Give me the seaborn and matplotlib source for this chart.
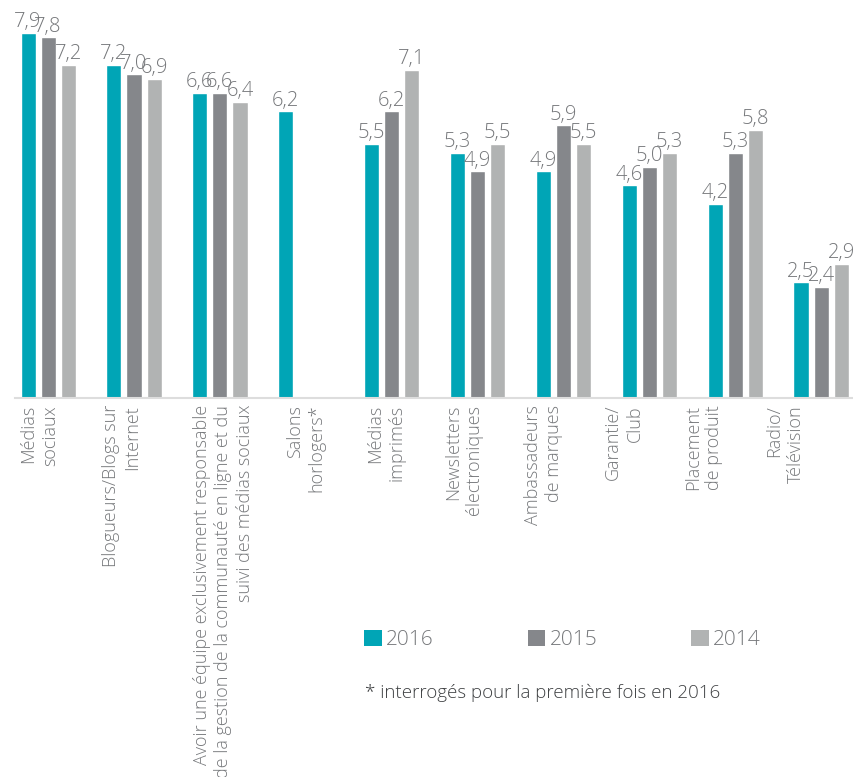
import matplotlib
matplotlib.use("Agg")
import matplotlib.pyplot as plt
import seaborn as sns
import pandas as pd
from matplotlib.patches import Patch

# ---------------- data ----------------
categories = [
    "Médias\nsociaux",
    "Blogueurs/Blogs sur\nInternet",
    "Avoir une équipe exclusivement responsable\nde la gestion de la communauté en ligne et du\nsuivi des médias sociaux",
    "Salons\nhorlogers*",
    "Médias\nimprimés",
    "Newsletters\nélectroniques",
    "Ambassadeurs\nde marques",
    "Garantie/\nClub",
    "Placement\nde produit",
    "Radio/\nTélévision",
]
years = ["2016", "2015", "2014"]
v2016 = [7.9, 7.2, 6.6, 6.2, 5.5, 5.3, 4.9, 4.6, 4.2, 2.5]
v2015 = [7.8, 7.0, 6.6, None, 6.2, 4.9, 5.9, 5.0, 5.3, 2.4]
v2014 = [7.2, 6.9, 6.4, None, 7.1, 5.5, 5.5, 5.3, 5.8, 2.9]
footnote = "* interrogés pour la première fois en 2016"

# ---------------- style ----------------
colors = ["#00A5B6", "#85878B", "#B1B3B3"]
text_color = "#76787B"
label_shift = [-0.105, -0.146, 0.041, 0.0, -0.07, -0.164, -0.234, -0.298, -0.368, -0.421]

sns.set_theme(style="white")
plt.rcParams["font.family"] = ["Open Sans", "DejaVu Sans"]

rows = []
for yr, vals in zip(years, [v2016, v2015, v2014]):
    for c, v in zip(categories, vals):
        if v is not None:
            rows.append({"cat": c, "year": yr, "val": v})
df = pd.DataFrame(rows)

fig = plt.figure(figsize=(8.54, 7.77), dpi=100)
ax = fig.add_axes([15 / 854, 1 - 398 / 777, 837 / 854, 393 / 777])

sns.barplot(data=df, x="cat", y="val", hue="year", order=categories,
            hue_order=years, palette=colors, width=0.702, gap=0.25,
            errorbar=None, ax=ax, legend=False, saturation=1)

for cont in ax.containers:
    labs = [f"{v:.1f}".replace(".", ",") for v in cont.datavalues]
    ax.bar_label(cont, labels=labs, padding=0.5, fontsize=14.5,
                 color=text_color, fontweight="light")

ax.set_ylim(0, 8.5)
ax.set_xlim(-0.386, 9.36)
ax.set_ylabel("")
ax.set_xlabel("")
ax.set_yticks([])
for s in ["top", "right", "left"]:
    ax.spines[s].set_visible(False)
ax.spines["bottom"].set_color("#DDDDDD")
ax.spines["bottom"].set_linewidth(1.5)

ax.set_xticks([i + d for i, d in enumerate(label_shift)])
ax.set_xticklabels(categories, rotation=90, ha="center", va="top",
                   multialignment="right", fontsize=13, color=text_color,
                   fontweight="light", linespacing=1.25)
ax.tick_params(axis="x", length=0, pad=5)

handles = [Patch(facecolor=c, edgecolor="none") for c in colors]
leg = fig.legend(handles, years, loc="center left",
                 bbox_to_anchor=(356 / 854, 1 - 640 / 777), ncol=3,
                 frameon=False, fontsize=15, handlelength=0.85,
                 handleheight=0.85, handletextpad=0.2, columnspacing=4.5,
                 borderaxespad=0)
for t in leg.get_texts():
    t.set_color(text_color)
    t.set_fontweight("light")

fig.text(365 / 854, 1 - 693 / 777, footnote, fontsize=13.5, color="#3F4143",
         va="center", ha="left", fontweight="light")

fig.savefig("out.png", dpi=100, facecolor="white")
